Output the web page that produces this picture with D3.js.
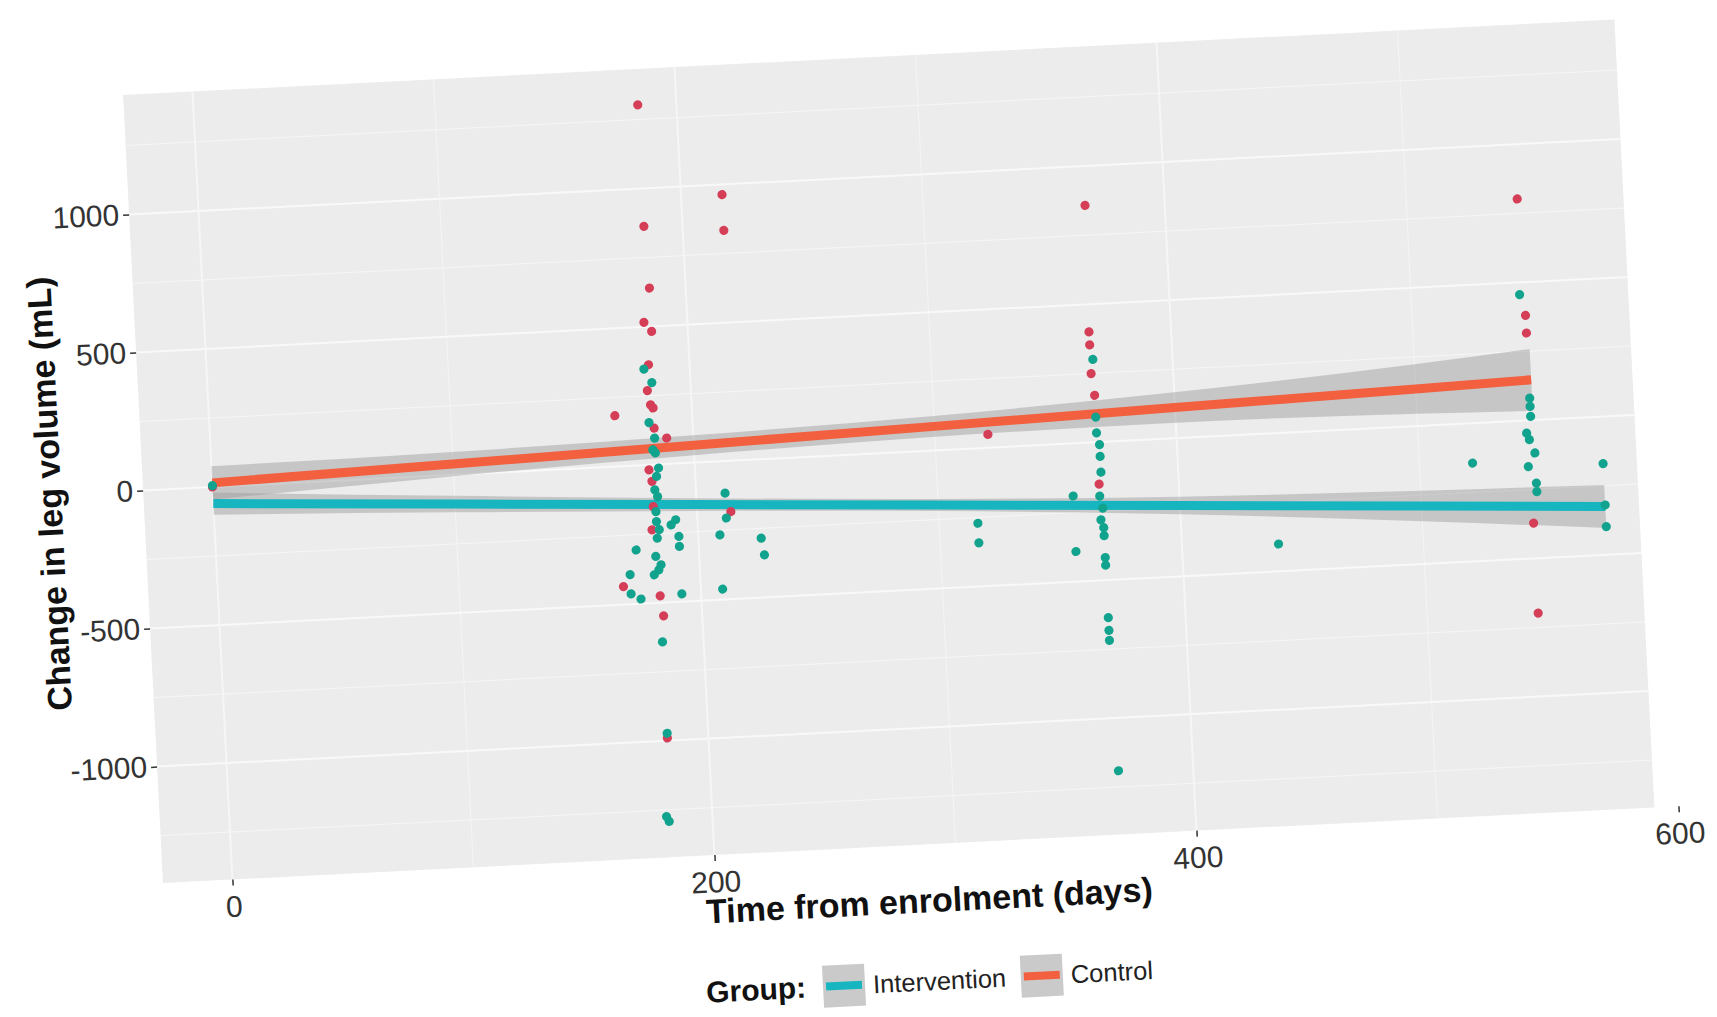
<!DOCTYPE html>
<html>
<head>
<meta charset="utf-8">
<script src="https://cdn.jsdelivr.net/npm/d3@7"></script>
<style>
  html, body { margin: 0; padding: 0; background: #fff; }
  svg { display: block; font-family: 'Liberation Sans', Arial, sans-serif; }
</style>
</head>
<body>
<div id="chart"></div>
<script>
// values: day from enrolment, change in leg volume (mL)
const controlDays = [0, 184, 217, 184, 217, 185, 182, 185, 183, 182, 183, 184, 168, 184, 189, 181, 182, 182, 181,
	168, 183, 184, 183, 214, 367, 366, 366, 366, 367, 367, 322, 546, 547, 547, 546, 546];
const controlChange = [0, 1303, 963, 863, 834, 639, 516, 482, 362, 269, 217, 205, 184, 132, 94, -18, -60, -151, -235,
	-435, -475, -548, -990, -184, 858, 400, 353, 249, 170, -152, 48, 802, 380, 316, -372, -698];

const interventionDays = [0, 181, 184, 182, 184, 183, 184, 185, 184, 183, 184, 183, 183, 184, 191, 189, 192, 192,
	183, 174, 182, 184, 183, 181, 171, 171, 175, 192, 183, 183, 181, 182, 212, 212, 209, 209, 226, 227, 316, 316,
	367, 367, 367, 368, 368, 368, 367, 368, 367, 368, 368, 356, 356, 368, 368, 368, 368, 368, 369, 440, 522, 545,
	547, 547, 547, 545, 546, 548, 545, 548, 548, 576, 576, 576];
const interventionChange = [5, 347, 297, 153, 96, 54, 42, -13, -43, -91, -116, -170, -206, -236, -203, -221, -264,
	-300, -266, -305, -332, -363, -381, -398, -393, -463, -483, -472, -642, -973, -1274, -1292, -116, -206, -266,
	-462, -285, -346, -271, -342, 300, 91, 34, -9, -52, -109, -195, -239, -281, -310, -339, -190, -391, -418, -446,
	-636, -682, -718, -1191, -401, -144, 456, 80, 50, 14, -46, -70, -119, -167, -228, -259, -170, -398, -320];

// linear fits with their confidence band
const controlFitDays = [0, 100, 200, 300, 400, 500, 548];
const controlFit = [15, 39, 63, 87, 111, 134, 146];
const controlLo = [-45, -5, 27, 49, 56, 44, 34];
const controlHi = [75, 83, 99, 125, 166, 224, 258];
const interventionFitDays = [0, 100, 200, 300, 400, 500, 576];
const interventionFit = [-60, -106, -152, -198, -244, -290, -325];
const interventionLo = [-100, -136, -175, -220, -276, -345, -403];
const interventionHi = [-20, -76, -129, -176, -212, -235, -247];

const xTicks = [0, 200, 400, 600];
const xMinor = [100, 300, 500];
const yTicks = [-1000, -500, 0, 500, 1000];
const yMinor = [-1250, -750, -250, 250, 750, 1250];
const groupNames = ['Intervention', 'Control'];

const lineColor = { Intervention: '#17b5c0', Control: '#f2603f' };
const pointColor = { Intervention: '#11a38d', Control: '#d53e57' };

const width = 1717;
const height = 1017;
// panel box before the whole picture is tilted
const panel = { left: 143, top: 91, bottom: 880 };
const tilt = -2.9;

const svg = d3
	.select('#chart')
	.append('svg')
	.attr('width', width)
	.attr('height', height);

// ggplot-like 5% expansion of the data range
function expand(ext) {
	const pad = (ext[1] - ext[0]) * 0.05;
	return [ext[0] - pad, ext[1] + pad];
}
const allDays = controlDays.concat(interventionDays);
const allChange = controlChange.concat(interventionChange);
const xDom = expand(d3.extent(allDays));
const x = d3.scaleLinear().domain(xDom).range([panel.left, 1672]);
const y = d3.scaleLinear().domain(expand(d3.extent(allChange))).range([panel.bottom, panel.top]);
// the photographed panel ends a little short of the full range on the right
panel.right = x(590);

const g = svg.append('g').attr('transform', `rotate(${tilt}, ${x(0)}, ${y(0)})`);

// panel background and grid
g.append('rect')
	.attr('x', panel.left)
	.attr('y', panel.top)
	.attr('width', panel.right - panel.left)
	.attr('height', panel.bottom - panel.top)
	.attr('fill', '#ececec');

function gridLines(vals, vertical, w, col) {
	g.append('g')
		.selectAll('line')
		.data(vals)
		.enter()
		.append('line')
		.attr('x1', (d) => (vertical ? x(d) : panel.left))
		.attr('x2', (d) => (vertical ? x(d) : panel.right))
		.attr('y1', (d) => (vertical ? panel.top : y(d)))
		.attr('y2', (d) => (vertical ? panel.bottom : y(d)))
		.attr('stroke', col)
		.attr('stroke-width', w);
}
gridLines(yMinor, false, 1, '#f6f6f6');
gridLines(xMinor, true, 1, '#f4f4f4');
gridLines(yTicks, false, 2, '#f9f9f9');
gridLines(xTicks.filter((d) => d < 590), true, 2, '#f6f6f6');

// axes
const xAxis = g
	.append('g')
	.attr('transform', `translate(0, ${panel.bottom})`)
	.call(d3.axisBottom(x).tickValues(xTicks).tickSize(6).tickPadding(10).tickFormat(d3.format('d')));
const yAxis = g
	.append('g')
	.attr('transform', `translate(${panel.left}, 0)`)
	.call(d3.axisLeft(y).tickValues(yTicks).tickSize(6).tickPadding(4).tickFormat(d3.format('d')));
[ xAxis, yAxis ].forEach((ax) => {
	ax.select('.domain').remove();
	ax.selectAll('.tick line').attr('stroke', '#333').attr('stroke-width', 1.5);
	ax.selectAll('.tick text')
		.attr('fill', '#333')
		.style('font-size', '30px')
		.style('font-family', "'Liberation Sans', Arial, sans-serif");
});
xAxis.selectAll('.tick text').attr('dy', '0.71em');
// ggplot prints a plain hyphen for negatives
yAxis.selectAll('.tick text').text((d) => String(d));

// smooth bands and lines
const fits = [
	{ name: 'Intervention', days: interventionFitDays, fit: interventionFit, lo: interventionLo, hi: interventionHi },
	{ name: 'Control', days: controlFitDays, fit: controlFit, lo: controlLo, hi: controlHi },
];
const band = d3
	.area()
	.x((d) => x(d.day))
	.y0((d) => y(d.lo))
	.y1((d) => y(d.hi))
	.curve(d3.curveMonotoneX);
const fitLine = d3
	.line()
	.x((d) => x(d.day))
	.y((d) => y(d.fit));
fits.forEach((f) => {
	const rows = f.days.map((day, i) => ({ day, fit: f.fit[i], lo: f.lo[i], hi: f.hi[i] }));
	g.append('path').datum(rows).attr('d', band).attr('fill', '#999').attr('fill-opacity', 0.45);
	g.append('path')
		.datum(rows)
		.attr('d', fitLine)
		.attr('fill', 'none')
		.attr('stroke', lineColor[f.name])
		.attr('stroke-width', 9);
});

// points
const controlPts = controlDays.map((d, i) => ({ day: d, v: controlChange[i], group: 'Control' }));
const interventionPts = interventionDays.map((d, i) => ({ day: d, v: interventionChange[i], group: 'Intervention' }));
g.selectAll('.pt')
	.data(controlPts.concat(interventionPts))
	.enter()
	.append('circle')
	.attr('cx', (d) => x(d.day))
	.attr('cy', (d) => y(d.v))
	.attr('r', 4.6)
	.attr('fill', (d) => pointColor[d.group]);

// axis titles
g.append('text')
	.attr('x', (panel.left + 1672) / 2)
	.attr('y', 948)
	.attr('text-anchor', 'middle')
	.style('font-size', '34px')
	.style('font-weight', 'bold')
	.attr('fill', '#111')
	.text('Time from enrolment (days)');
g.append('text')
	.attr('transform', `translate(61, ${(panel.top + panel.bottom) / 2}) rotate(-90)`)
	.attr('text-anchor', 'middle')
	.style('font-size', '34px')
	.style('font-weight', 'bold')
	.attr('fill', '#111')
	.text('Change in leg volume (mL)');

// legend
const legendY = 1017;
const legend = g.append('g');
legend
	.append('text')
	.attr('x', 680)
	.attr('y', legendY + 10)
	.style('font-size', '30px')
	.style('font-weight', 'bold')
	.attr('fill', '#111')
	.text('Group:');
const keyX = { Intervention: 797, Control: 995 };
const keySize = 42;
groupNames.forEach((name) => {
	const kx = keyX[name];
	legend
		.append('rect')
		.attr('x', kx)
		.attr('y', legendY - keySize / 2)
		.attr('width', keySize)
		.attr('height', keySize)
		.attr('fill', '#f2f2f2');
	legend
		.append('rect')
		.attr('x', kx)
		.attr('y', legendY - keySize / 2)
		.attr('width', keySize)
		.attr('height', keySize)
		.attr('fill', '#999')
		.attr('fill-opacity', 0.45);
	legend
		.append('line')
		.attr('x1', kx + 3)
		.attr('x2', kx + keySize - 3)
		.attr('y1', legendY)
		.attr('y2', legendY)
		.attr('stroke', lineColor[name])
		.attr('stroke-width', 8);
	legend
		.append('text')
		.attr('x', kx + keySize + 8)
		.attr('y', legendY + 9)
		.style('font-size', '25.5px')
		.attr('fill', '#222')
		.text(name);
});
</script>
</body>
</html>
